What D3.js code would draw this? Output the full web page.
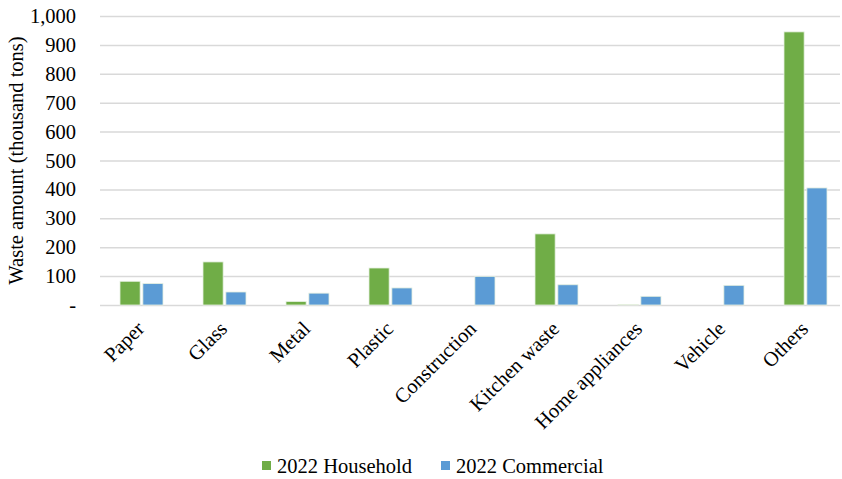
<!DOCTYPE html>
<html>
<head>
<meta charset="utf-8">
<script src="https://cdn.jsdelivr.net/npm/d3@7"></script>
<style>
  body { margin: 0; background: #fff; }
</style>
</head>
<body>
<div id="chart"></div>
<script>
const categories = ['Paper', 'Glass', 'Metal', 'Plastic', 'Construction', 'Kitchen waste', 'Home appliances', 'Vehicle', 'Others']
const household = [82, 149, 12, 128, 0, 246, 2, 0, 945]
const commercial = [74, 45, 41, 59, 99, 70, 30, 68, 405]
const seriesNames = ['2022 Household', '2022 Commercial']
const yTicks = [0, 100, 200, 300, 400, 500, 600, 700, 800, 900, 1000]

const colors = ['#70ad47', '#5b9bd5']
const FONT = '"Liberation Serif", "Times New Roman", Times, "DejaVu Serif", serif'
const FS = '20.5px'

const W = 842
const H = 479
const margin = { top: 16, right: -5, bottom: 174, left: 100 }
const width = W - margin.left - margin.right
const height = H - margin.top - margin.bottom

const svg = d3.select('#chart')
  .append('svg')
  .attr('width', W)
  .attr('height', H)
  .style('font-family', FONT)

const g = svg.append('g')
  .attr('transform', 'translate(' + margin.left + ',' + margin.top + ')')

const x = d3.scaleBand().domain(categories).range([0, width]).paddingInner(0).paddingOuter(0)
const xInner = d3.scaleBand().domain([0, 1]).range([x.bandwidth() / 2 - 21.5, x.bandwidth() / 2 + 21.5]).paddingInner(0.12)
const y = d3.scaleLinear().domain([0, 1000]).range([height, 0])

// gridlines
const yAxis = d3.axisLeft(y)
  .tickValues(yTicks)
  .tickSize(-(W - 2 - margin.left))
  .tickPadding(24)
  .tickFormat(d => d === 0 ? '-' : d3.format(',')(d))

const ya = g.append('g').attr('class', 'y-axis').call(yAxis)
  .attr('font-family', FONT)
ya.select('.domain').remove()
ya.selectAll('.tick line').attr('stroke', '#d9d9d9').attr('stroke-width', 1.5)
ya.selectAll('.tick text')
  .style('font-family', FONT)
  .style('font-size', FS)
  .attr('fill', '#000')
  .attr('x', -24)

const data = categories.map((c, i) => ({ cat: c, vals: [household[i], commercial[i]] }))

const groups = g.selectAll('.cat')
  .data(data)
  .enter()
  .append('g')
  .attr('transform', d => 'translate(' + x(d.cat) + ',0)')

groups.selectAll('rect')
  .data(d => d.vals.map((v, k) => ({ v, k })))
  .enter()
  .append('rect')
  .filter(d => d.v > 0)
  .attr('x', d => xInner(d.k))
  .attr('width', xInner.bandwidth())
  .attr('y', d => y(d.v))
  .attr('height', d => height - y(d.v))
  .attr('fill', d => colors[d.k])
  .attr('stroke', '#e6f0e0')
  .attr('stroke-width', 0.8)

// category labels
const xa = g.append('g')
  .attr('transform', 'translate(0,' + height + ')')
  .call(d3.axisBottom(x).tickSize(0).tickPadding(0))
  .attr('font-family', FONT)
xa.select('.domain').remove()
xa.selectAll('.tick text')
  .style('font-family', FONT)
  .style('font-size', FS)
  .attr('fill', '#000')
  .attr('text-anchor', 'end')
  .attr('dy', 0)
  .attr('transform', 'translate(4,25) rotate(-45)')

// y axis title
svg.append('text')
  .attr('transform', 'translate(23,' + (margin.top + height / 2) + ') rotate(-90)')
  .attr('text-anchor', 'middle')
  .style('font-family', FONT)
  .style('font-size', FS)
  .text('Waste amount (thousand tons)')

// legend
const legendX = [262, 441]
const legend = svg.append('g')
seriesNames.forEach((n, i) => {
  legend.append('rect')
    .attr('x', legendX[i])
    .attr('y', 461)
    .attr('width', 9)
    .attr('height', 9)
    .attr('fill', colors[i])
  legend.append('text')
    .attr('x', legendX[i] + 15)
    .attr('y', 473)
    .style('font-family', FONT)
    .style('font-size', FS)
    .text(n)
})
</script>
</body>
</html>
